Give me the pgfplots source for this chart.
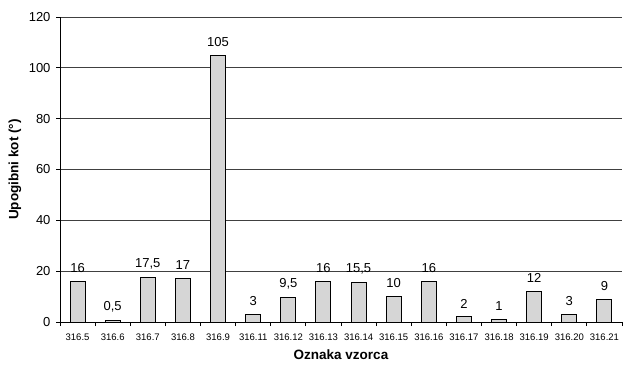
\documentclass[border=0pt]{standalone}
\usepackage{fontspec}
\setmainfont{Liberation Sans}
\usepackage{pgfplots}
\pgfplotsset{compat=1.18}
\definecolor{barfill}{RGB}{214,214,214}
\begin{document}
\begin{tikzpicture}
\useasboundingbox (-60pt,-43pt) rectangle (563pt,322pt);
\begin{axis}[
  at={(0pt,0pt)}, anchor=south west,
  scale only axis, width=562pt, height=305pt,
  xmin=-0.5, xmax=15.5, ymin=0, ymax=120,
  axis lines=left, axis line style={-, line width=0.9pt, black},
  ytick={0,20,...,120}, ymajorgrids, grid style={black!75, line width=0.7pt},
  xtick={0,...,15},
  xticklabels={316.5,316.6,316.7,316.8,316.9,316.11,316.12,316.13,316.14,316.15,316.16,316.17,316.18,316.19,316.20,316.21},
  major x tick style={draw=none},
  minor xtick={-0.5,0.5,...,15.5},
  minor x tick style={black, line width=0.8pt},
  minor tick length=4pt, major tick length=4pt,
  y tick style={black, line width=0.8pt},
  tick align=outside,
  /pgf/number format/assume math mode=true,
  /pgf/number format/use comma,
  xticklabel style={font=\fontsize{9.5}{10}\selectfont, yshift=-4pt},
  yticklabel style={font=\fontsize{13}{14}\selectfont, xshift=-2pt},
  xlabel={Oznaka vzorca},
  ylabel={Upogibni kot (°)},
  every axis x label/.style={at={(axis description cs:0.5,-0.1082)}, anchor=center, font=\fontsize{13.5}{15}\selectfont\bfseries},
  every axis y label/.style={at={(axis description cs:-0.0801,0.5)}, anchor=center, rotate=90, font=\fontsize{13.5}{15}\selectfont\bfseries},
  ybar, bar width=15pt, bar shift=0pt,
  nodes near coords,
  every node near coord/.append style={font=\fontsize{13}{14}\selectfont, black, yshift=5pt},
  clip=false,
]
\addplot[fill=barfill, draw=black, line width=1pt] coordinates {
(0,16) (1,0.5) (2,17.5) (3,17) (4,105) (5,3) (6,9.5) (7,16)
(8,15.5) (9,10) (10,16) (11,2) (12,1) (13,12) (14,3) (15,9)};
\end{axis}
\end{tikzpicture}
\end{document}
